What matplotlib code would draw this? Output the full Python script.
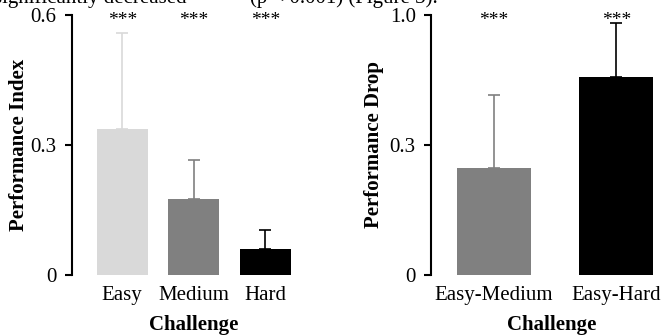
import matplotlib
matplotlib.use("Agg")
import matplotlib.pyplot as plt
from matplotlib.transforms import blended_transform_factory

plt.rcParams['font.family'] = ['Liberation Serif', 'DejaVu Serif']

# Left panel data
challenges = ["Easy", "Medium", "Hard"]
perf_index = [0.337, 0.176, 0.061]
perf_index_err = [0.222, 0.090, 0.043]
left_colors = ["#d9d9d9", "#808080", "#000000"]
left_ticks = [0, 0.3, 0.6]
left_ticklabels = ["0", "0.3", "0.6"]

# Right panel data
drops = ["Easy-Medium", "Easy-Hard"]
perf_drop = [0.248, 0.456]
perf_drop_err = [0.168, 0.126]
right_colors = ["#808080", "#000000"]
right_ticks = [0, 0.3, 0.6]
right_ticklabels = ["0", "0.3", "1.0"]

sig = "***"
caption_a = "significantly decreased"
caption_b = "(p < 0.001) (Figure 3)."

W, H = 662, 335
fig = plt.figure(figsize=(W / 100, H / 100), dpi=100)

def px_axes(x0, x1, y_top, y_bot):
    return fig.add_axes([x0 / W, (H - y_bot) / H, (x1 - x0) / W, (y_bot - y_top) / H])

FS = 15

def style(ax, ticks, labels, ylabel, ylab_px):
    ax.set_ylim(0, 0.6)
    ax.set_yticks(ticks)
    ax.set_yticklabels(labels, fontsize=FS)
    for s in ["top", "right", "bottom"]:
        ax.spines[s].set_visible(False)
    ax.spines["left"].set_linewidth(1.5)
    ax.tick_params(axis="y", direction="out", length=5, width=1.5, pad=6)
    ax.tick_params(axis="x", length=0, pad=8, labelsize=FS)
    ax.set_ylabel(ylabel, fontsize=FS, fontweight="bold")
    ax.yaxis.set_label_coords(ylab_px / W, 0.5,
                              transform=blended_transform_factory(fig.transFigure, ax.transAxes))
    ax.set_facecolor("none")

# Left axes
axL = px_axes(71.7, 300, 15, 275)
xL = list(range(len(challenges)))
axL.bar(xL, perf_index, width=0.71, color=left_colors, zorder=2)
for i in xL:
    axL.errorbar(xL[i], perf_index[i], yerr=[[0], [perf_index_err[i]]], fmt="none",
                 ecolor=left_colors[i], elinewidth=1.2, capsize=4, capthick=1.2, zorder=1)
axL.set_xlim(-0.705, -0.705 + (300 - 71.7) / 71.6)
axL.set_xticks(xL)
axL.set_xticklabels(challenges)
style(axL, left_ticks, left_ticklabels, "Performance Index", 29.5)
tL = blended_transform_factory(axL.transData, axL.transAxes)
for i in xL:
    axL.text(xL[i], 0.945, sig, transform=tL, ha="center", va="bottom", fontsize=14, clip_on=False)
axL.set_xlabel("Challenge", fontsize=FS, fontweight="bold")
axL.xaxis.set_label_coords(1, -0.152, transform=tL)

# Right axes
axR = px_axes(431, 660, 15, 275)
xR = list(range(len(drops)))
axR.bar(xR, perf_drop, width=0.604, color=right_colors, zorder=2)
for i in xR:
    axR.errorbar(xR[i], perf_drop[i], yerr=[[0], [perf_drop_err[i]]], fmt="none",
                 ecolor=right_colors[i], elinewidth=1.2, capsize=4, capthick=1.2, zorder=1)
axR.set_xlim(-0.514, -0.514 + (660 - 431) / 122.5)
axR.set_xticks(xR)
axR.set_xticklabels(drops)
style(axR, right_ticks, right_ticklabels, "Performance Drop", 384.5)
tR = blended_transform_factory(axR.transData, axR.transAxes)
for i in xR:
    axR.text(xR[i], 0.945, sig, transform=tR, ha="center", va="bottom", fontsize=14, clip_on=False)
axR.set_xlabel("Challenge", fontsize=FS, fontweight="bold")
axR.xaxis.set_label_coords(0.47, -0.152, transform=tR)

# Clipped line of running text at the very top of the crop
fig.text(-6 / W, 1 - 3.5 / H, caption_a, fontsize=15, ha="left", va="baseline")
fig.text(250 / W, 1 - 3.5 / H, caption_b, fontsize=15, ha="left", va="baseline")

fig.savefig("out.png", dpi=100)
